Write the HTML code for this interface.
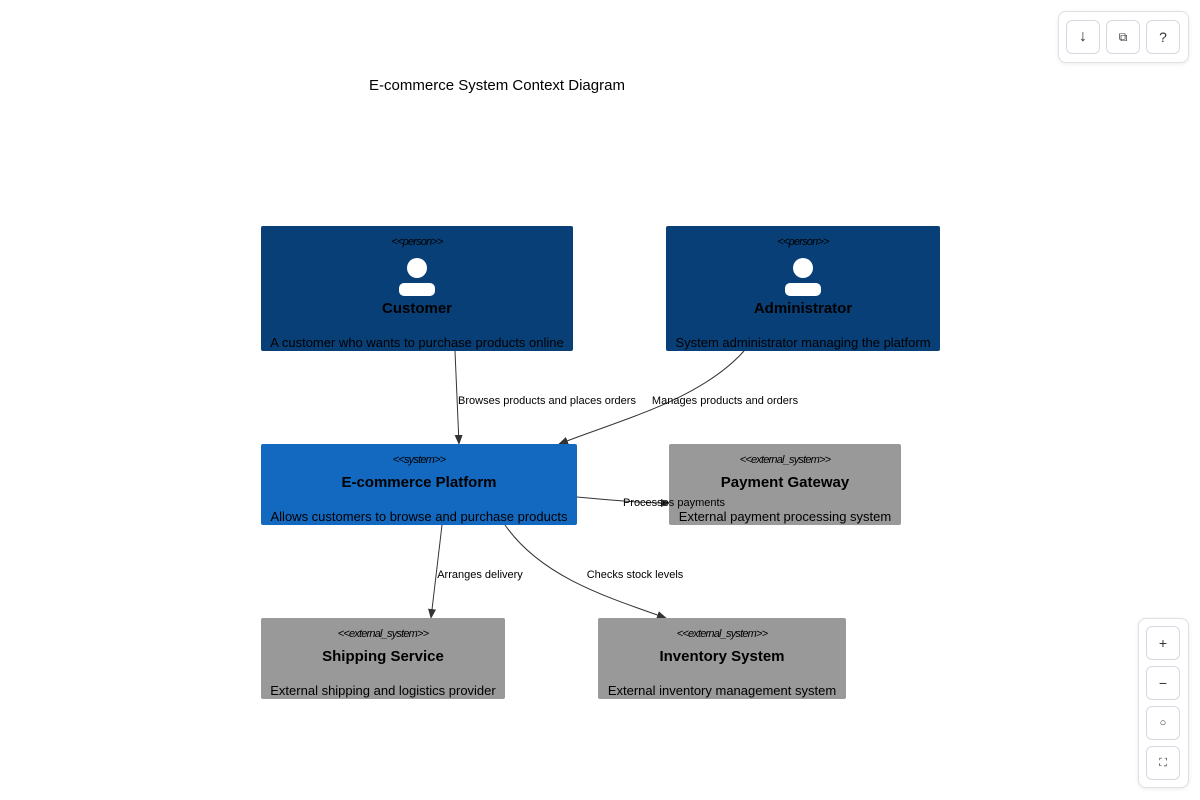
<!DOCTYPE html>
<html><head><meta charset="utf-8"><style>
body{margin:0;width:1200px;height:800px;background:#fff;font-family:"Liberation Sans",sans-serif;position:relative;overflow:hidden}
.tb{position:absolute;border:1px solid #dde1e6;border-radius:8px;background:#fff;box-shadow:0 1px 4px rgba(0,0,0,.08)}
.btn{position:absolute;width:34px;height:34px;border:1px solid #d6dae0;border-radius:6px;background:#fff;display:flex;align-items:center;justify-content:center;font-size:14px;color:#333;box-sizing:border-box}
</style></head><body>
<div class="tb" style="left:1058px;top:11px;width:129px;height:50px">
<div class="btn" style="left:7px;top:8px;font-size:16px">↓</div>
<div class="btn" style="left:47px;top:8px;font-size:12px">⧉</div>
<div class="btn" style="left:87px;top:8px">?</div>
</div>
<div class="tb" style="left:1138px;top:618px;width:49px;height:168px">
<div class="btn" style="left:7px;top:7px">+</div>
<div class="btn" style="left:7px;top:47px">−</div>
<div class="btn" style="left:7px;top:87px;font-size:11px">○</div>
<div class="btn" style="left:7px;top:127px;font-size:11px">⛶</div>
</div>
<svg width="1200" height="800" style="position:absolute;left:0;top:0" font-family="Liberation Sans, sans-serif">
<defs><marker id="a" markerWidth="10" markerHeight="8" refX="9" refY="4" orient="auto" markerUnits="userSpaceOnUse"><path d="M0,0L10,4L0,8z" fill="#333"/></marker></defs>
<text x="497" y="90" font-size="15" text-anchor="middle" fill="#000">E-commerce System Context Diagram</text>
<g stroke="#333" stroke-width="1" fill="none" marker-end="url(#a)">
<path d="M455,351 L459,444"/>
<path d="M744,351 C700,400 620,420 559,444"/>
<path d="M577,497 C610,500 640,503 670,503"/>
<path d="M442,525 L431,618"/>
<path d="M505,525 C540,575 600,595 666,618"/>
</g>
<g text-anchor="middle">
<rect x="261" y="226" width="312" height="125" rx="2" fill="#083f77"/>
<text x="417" y="245" font-size="11" font-style="italic" letter-spacing="-0.8">&lt;&lt;person&gt;&gt;</text>
<circle cx="417" cy="268" r="10" fill="#fff"/><rect x="399" y="283" width="36" height="13" rx="5" fill="#fff"/>
<text x="417" y="313" font-size="15" font-weight="bold">Customer</text>
<text x="417" y="347" font-size="13">A customer who wants to purchase products online</text>

<rect x="666" y="226" width="274" height="125" rx="2" fill="#083f77"/>
<text x="803" y="245" font-size="11" font-style="italic" letter-spacing="-0.8">&lt;&lt;person&gt;&gt;</text>
<circle cx="803" cy="268" r="10" fill="#fff"/><rect x="785" y="283" width="36" height="13" rx="5" fill="#fff"/>
<text x="803" y="313" font-size="15" font-weight="bold">Administrator</text>
<text x="803" y="347" font-size="13">System administrator managing the platform</text>

<rect x="261" y="444" width="316" height="81" rx="2" fill="#1368bf"/>
<text x="419" y="463" font-size="11" font-style="italic" letter-spacing="-0.8">&lt;&lt;system&gt;&gt;</text>
<text x="419" y="487" font-size="15" font-weight="bold">E-commerce Platform</text>
<text x="419" y="521" font-size="13">Allows customers to browse and purchase products</text>

<rect x="669" y="444" width="232" height="81" rx="2" fill="#999"/>
<text x="785" y="463" font-size="11" font-style="italic" letter-spacing="-0.8">&lt;&lt;external_system&gt;&gt;</text>
<text x="785" y="487" font-size="15" font-weight="bold">Payment Gateway</text>
<text x="785" y="521" font-size="13">External payment processing system</text>

<rect x="261" y="618" width="244" height="81" rx="2" fill="#999"/>
<text x="383" y="637" font-size="11" font-style="italic" letter-spacing="-0.8">&lt;&lt;external_system&gt;&gt;</text>
<text x="383" y="661" font-size="15" font-weight="bold">Shipping Service</text>
<text x="383" y="695" font-size="13">External shipping and logistics provider</text>

<rect x="598" y="618" width="248" height="81" rx="2" fill="#999"/>
<text x="722" y="637" font-size="11" font-style="italic" letter-spacing="-0.8">&lt;&lt;external_system&gt;&gt;</text>
<text x="722" y="661" font-size="15" font-weight="bold">Inventory System</text>
<text x="722" y="695" font-size="13">External inventory management system</text>
</g>
<g font-size="11" fill="#000" text-anchor="middle">
<text x="547" y="404">Browses products and places orders</text>
<text x="725" y="404">Manages products and orders</text>
<text x="674" y="506">Processes payments</text>
<text x="480" y="578">Arranges delivery</text>
<text x="635" y="578">Checks stock levels</text>
</g>
</svg>
</body></html>
